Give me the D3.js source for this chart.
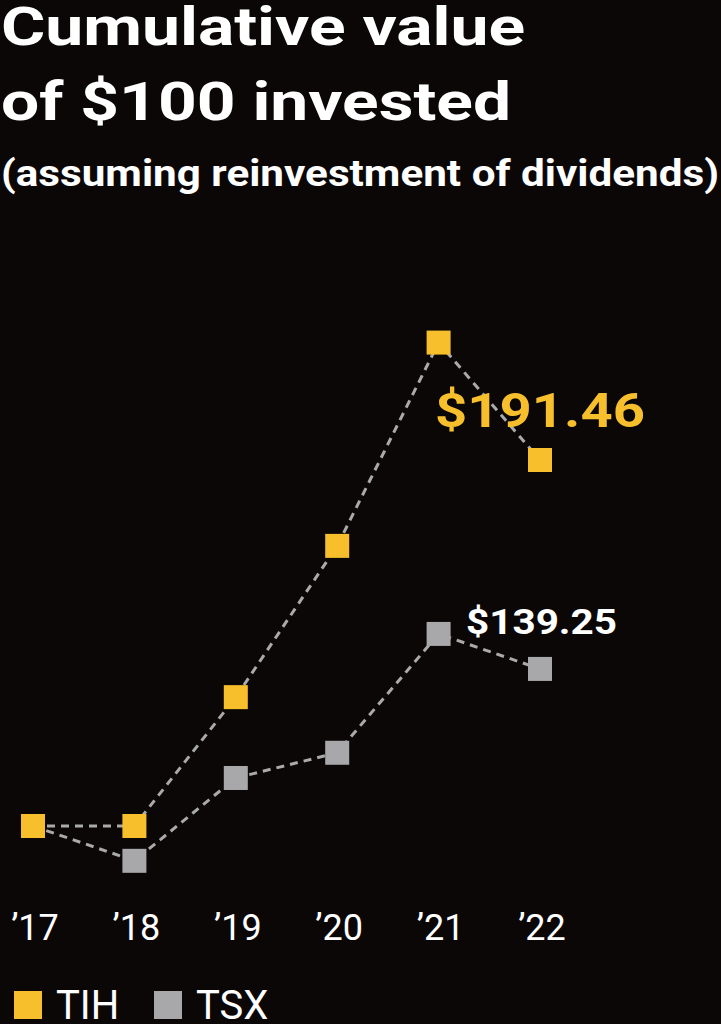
<!DOCTYPE html>
<html><head><meta charset="utf-8">
<script src="https://cdn.jsdelivr.net/npm/d3@7"></script>
<style>body{margin:0;background:#0b0707;}svg{display:block}</style>
</head><body><svg id="c" width="721" height="1024"></svg>
<script>
const years = ["'17","'18","'19","'20","'21","'22"];
const tih = [100, 100, 132.2, 170, 220.8, 191.46];
const tsx = [100, 91.3, 112, 118.3, 148, 139.25];
const seriesNames = ["TIH","TSX"];
const colors = {TIH:"#f7bf2b", TSX:"#a8a8ab"};

const svg = d3.select("#c");
svg.append("rect").attr("width",721).attr("height",1024).attr("fill","#0b0707");
const F = "'Roboto','Liberation Sans',sans-serif";
svg.append("text").attr("x",1).attr("y",45).text("Cumulative value").attr("fill","#fff").attr("font-family",F).attr("font-weight",700).attr("font-size",53).attr("textLength",524).attr("lengthAdjust","spacingAndGlyphs");
svg.append("text").attr("x",1).attr("y",120).text("of $100 invested").attr("fill","#fff").attr("font-family",F).attr("font-weight",700).attr("font-size",53).attr("textLength",510).attr("lengthAdjust","spacingAndGlyphs");
svg.append("text").attr("x",1).attr("y",186).text("(assuming reinvestment of dividends)").attr("fill","#fff").attr("font-family",F).attr("font-weight",700).attr("font-size",36).attr("textLength",718).attr("lengthAdjust","spacingAndGlyphs");

const x = d3.scalePoint().domain(years).range([33,540]);
const y = d3.scaleLinear().domain([100,191.46]).range([826,460]);

const line = d3.line().x((d,i)=>x(years[i])).y(d=>y(d));
[["TSX",tsx],["TIH",tih]].forEach(([n,vals])=>{
  svg.append("path").attr("d",line(vals)).attr("fill","none").attr("stroke","#aaaaaa").attr("stroke-width",3).attr("stroke-dasharray","8,6");
});
[["TSX",tsx],["TIH",tih]].forEach(([n,vals])=>{
  svg.selectAll(null).data(vals).enter().append("rect")
    .attr("x",(d,i)=>x(years[i])-12).attr("y",d=>y(d)-12).attr("width",24).attr("height",24).attr("fill",colors[n]);
});
svg.append("text").attr("x",435).attr("y",427).text("$191.46").attr("fill",colors.TIH).attr("font-family",F).attr("font-weight",700).attr("font-size",48).attr("textLength",210).attr("lengthAdjust","spacingAndGlyphs");
svg.append("text").attr("x",466).attr("y",634).text("$139.25").attr("fill","#fff").attr("font-family",F).attr("font-weight",700).attr("font-size",35).attr("textLength",151).attr("lengthAdjust","spacingAndGlyphs");

const ax = svg.append("g").attr("transform","translate(0,940)");
ax.selectAll("text").data(years).enter().append("text")
  .attr("x",d=>x(d)+2).attr("text-anchor","middle").text(d=>d.replace("'","\u2019"))
  .attr("fill","#fff").attr("font-family",F).attr("font-size",36);

const lg = svg.append("g").attr("transform","translate(0,1005)");
[[14,"TIH"],[154,"TSX"]].forEach(([lx,n])=>{
  lg.append("rect").attr("x",lx).attr("y",-14).attr("width",28).attr("height",28).attr("fill",colors[n]);
  lg.append("text").attr("x",lx+42).attr("y",14).text(n).attr("fill","#fff").attr("font-family",F).attr("font-size",40);
});
</script></body></html>
